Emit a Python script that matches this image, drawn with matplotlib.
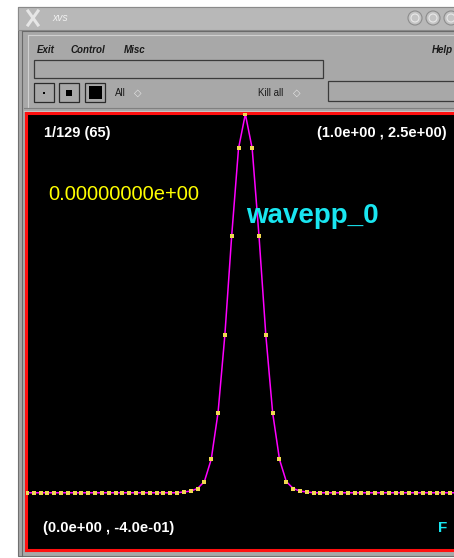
import matplotlib.pyplot as plt
from matplotlib.patches import Rectangle, Circle
import numpy as np

plt.rcParams['font.family'] = ['Liberation Sans', 'DejaVu Sans']

# one frame of the wave, 65 grid points
y_vals = [0.0, 0.0, 0.0, 0.0, 0.0, 0.0, 0.0, 0.0, 0.0, 0.0,
          0.0, 0.0, 0.0, 0.0, 0.0, 0.0, 0.0, 0.0, 0.0, 0.0,
          0.0, 0.0, 0.0, 0.005, 0.011, 0.028, 0.074, 0.220, 0.528, 1.041,
          1.696, 2.273, 2.500, 2.273, 1.696, 1.041, 0.528, 0.220, 0.074, 0.028,
          0.011, 0.005, 0.0, 0.0, 0.0, 0.0, 0.0, 0.0, 0.0, 0.0,
          0.0, 0.0, 0.0, 0.0, 0.0, 0.0, 0.0, 0.0, 0.0, 0.0,
          0.0, 0.0, 0.0, 0.0, 0.0]
x_vals = np.linspace(0.0, 1.0, len(y_vals))

frame_label = "1/129 (65)"
max_label = "(1.0e+00 , 2.5e+00)"
min_label = "(0.0e+00 , -4.0e-01)"
time_label = "0.00000000e+00"
name_label = "wavepp_0"

W, H = 454, 558
fig = plt.figure(figsize=(W / 100, H / 100), dpi=100)
fig.patch.set_facecolor('white')

# window chrome, drawn in pixel coords
bg = fig.add_axes([0, 0, 1, 1])
bg.set_xlim(0, W)
bg.set_ylim(H, 0)
bg.axis('off')

gray = '#a8a8a8'
bg.add_patch(Rectangle((18, 7), 460, 549, facecolor=gray, edgecolor='#707070', lw=0.8))
bg.add_patch(Rectangle((18, 7), 460, 23, facecolor='#b8b8b8', edgecolor='#8a8a8a', lw=0.8))
bg.plot([22, 460], [31, 31], color='#6a6a6a', lw=0.8)
bg.plot([22, 22], [31, 556], color='#6a6a6a', lw=0.8)
bg.plot([28, 460], [35, 35], color='#d0d0d0', lw=0.8)
bg.plot([28, 28], [35, 108], color='#d0d0d0', lw=0.8)
bg.plot([24, 460], [108, 108], color='#808080', lw=0.8)
bg.plot([24, 460], [111, 111], color='#c8c8c8', lw=0.8)

# title bar
bg.plot([28, 38], [11, 25], color='#e6e6e6', lw=2.2)
bg.plot([28, 38], [25, 11], color='#e6e6e6', lw=2.2)
bg.text(52, 18, "xvs", fontsize=7.5, color='#f0f0f0', va='center', style='italic')
for cx in [415, 433, 451]:
    bg.add_patch(Circle((cx, 18), 7, facecolor='#c4c4c4', edgecolor='#8c8c8c', lw=0.8))
    bg.add_patch(Circle((cx, 18), 4, facecolor='none', edgecolor='#e8e8e8', lw=0.8))

# menu bar
for lab, mx in [("Exit", 37), ("Control", 71), ("Misc", 124)]:
    bg.text(mx, 50, lab, fontsize=7, fontweight='bold', style='italic', color='#1a1a1a', va='center')
bg.text(453, 50, "Help", fontsize=7, fontweight='bold', style='italic', color='#1a1a1a', va='center', ha='right')

# text entry and buttons
bg.add_patch(Rectangle((34, 60), 289, 18, facecolor=gray, edgecolor='#3a3a3a', lw=0.9))
bg.add_patch(Rectangle((328, 81), 140, 20, facecolor=gray, edgecolor='#3a3a3a', lw=0.9))
for bx, s in [(34, 2), (59, 6), (85, 13)]:
    bg.add_patch(Rectangle((bx, 83), 20, 19, facecolor=gray, edgecolor='#2a2a2a', lw=0.9))
    bg.add_patch(Rectangle((bx + 10 - s / 2, 92.5 - s / 2), s, s, facecolor='black', edgecolor='none'))
bg.text(115, 93, "All", fontsize=7, color='#1a1a1a', va='center')
bg.text(134, 93, "\u25c7", fontsize=7, color='#e8e8e8', va='center')
bg.text(258, 93, "Kill all", fontsize=7, color='#1a1a1a', va='center')
bg.text(293, 93, "\u25c7", fontsize=7, color='#e8e8e8', va='center')

# plot panel
ax = fig.add_axes([26 / W, (H - 550) / H, 440 / W, 437 / H])
ax.set_facecolor('black')
ax.plot(x_vals, y_vals, color='#ff00ff', lw=1.1, zorder=2)
ax.plot(x_vals, y_vals, 's', color='#f0d850', markersize=2.8, markeredgewidth=0, zorder=3)
ax.set_xlim(-0.002, 1.005)
ax.set_ylim(-0.378, 2.507)
ax.set_xticks([])
ax.set_yticks([])
for sp in ax.spines.values():
    sp.set_color('#ff1010')
    sp.set_linewidth(2.2)


def px(x, y):
    return x / W, 1 - y / H


fig.text(*px(44, 133), frame_label, color='white', fontsize=10.5, fontweight='bold', va='center')
fig.text(*px(447, 133), max_label, color='white', fontsize=10.5, fontweight='bold', va='center', ha='right')
fig.text(*px(48, 194), time_label, color='#ffff00', fontsize=14.5, va='center')
fig.text(*px(246, 223), name_label, color='#19e6f0', fontsize=20, fontweight='bold', va='baseline')
fig.text(*px(43, 528), min_label, color='white', fontsize=10.5, fontweight='bold', va='center')
fig.text(*px(438, 528), "F", color='#19e6f0', fontsize=11, fontweight='bold', va='center')

fig.savefig("out.png", dpi=100, facecolor='white')
